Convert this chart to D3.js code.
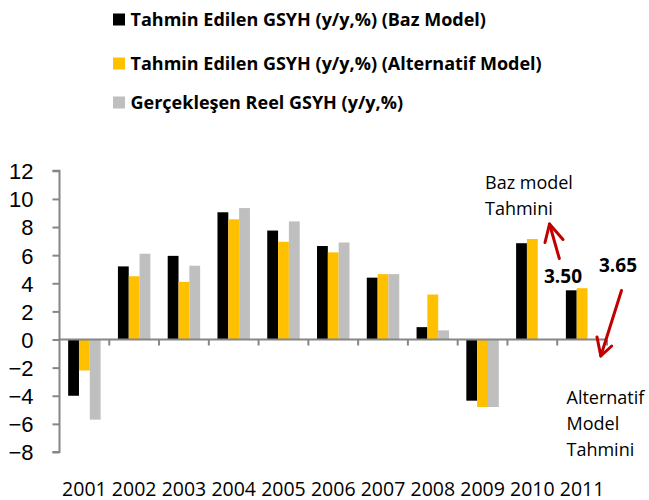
<!DOCTYPE html>
<html lang="tr">
    <head>
        <meta charset="utf-8">
        <title>GSYH Tahminleri</title>
        <script type="text/javascript" src="https://d3js.org/d3.v7.min.js"></script>
        <style>
            body { margin: 0; background: #fff; }
            svg { display: block; font-family: "Open Sans", sans-serif; }
            .axis path, .axis line { stroke: #868686; stroke-width: 2; }
            .y.axis text { font-size: 22px; fill: #000; }
            .x.axis text { font-size: 19.5px; fill: #000; }
            .legend text { font-size: 18px; font-weight: bold; }
            .note { font-size: 18px; }
            .val { font-size: 19px; font-weight: bold; }
        </style>
    </head>
    <body>
        <script>
            // data
            const years = ["2001","2002","2003","2004","2005","2006","2007","2008","2009","2010","2011"];
            const bazModel = [-4.0, 5.2, 5.95, 9.05, 7.75, 6.65, 4.4, 0.88, -4.35, 6.85, 3.50];
            const altModel = [-2.2, 4.5, 4.1, 8.55, 6.95, 6.2, 4.65, 3.2, -4.8, 7.15, 3.65];
            const gercek   = [-5.7, 6.1, 5.25, 9.35, 8.4, 6.9, 4.65, 0.65, -4.8, null, null];
            const seriesNames = ["Tahmin Edilen GSYH (y/y,%) (Baz Model)",
                                 "Tahmin Edilen GSYH (y/y,%) (Alternatif Model)",
                                 "Gerçekleşen Reel GSYH (y/y,%)"];
            const seriesColors = ["#000000", "#FFC000", "#BFBFBF"];
            const yTicks = [-8, -6, -4, -2, 0, 2, 4, 6, 8, 10, 12];

            const w = 649, h = 500;
            const svg = d3.select("body").append("svg")
                .attr("width", w).attr("height", h);

            // scales
            const xScale = d3.scaleBand()
                .domain(years)
                .range([59.5, 607]);
            const yScale = d3.scaleLinear()
                .domain([-8, 12])
                .range([452, 170.8]);
            const inner = d3.scaleBand()
                .domain([0, 1, 2])
                .range([0, xScale.bandwidth()])
                .paddingInner(0)
                .paddingOuter(0.8);

            const all = [bazModel, altModel, gercek];

            // bars
            all.forEach(function(vals, si) {
                svg.append("g")
                    .selectAll("rect")
                    .data(years.map(function(y, i) { return {year: y, v: vals[i]}; })
                               .filter(function(d) { return d.v !== null; }))
                    .enter()
                    .append("rect")
                    .attr("fill", seriesColors[si])
                    .attr("x", function(d) { return xScale(d.year) + inner(si); })
                    .attr("width", inner.bandwidth())
                    .attr("y", function(d) { return yScale(Math.max(0, d.v)); })
                    .attr("height", function(d) { return Math.abs(yScale(d.v) - yScale(0)); });
            });

            // y axis
            const yAxis = d3.axisLeft(yScale)
                .tickValues(yTicks)
                .tickSize(7)
                .tickPadding(19)
                .tickFormat(d3.format("d"));
            svg.append("g")
                .attr("class", "y axis")
                .attr("transform", "translate(59.5,0)")
                .call(yAxis)
                .call(function(g) { g.select(".domain").attr("d", "M-7,170.8H0V452H-7"); })
                .selectAll("text").attr("dy", "0.36em");

            // x axis at zero, ticks between categories
            const zeroAxis = svg.append("g")
                .attr("class", "x axis");
            zeroAxis.append("line")
                .attr("x1", 59.5).attr("x2", 607)
                .attr("y1", yScale(0)).attr("y2", yScale(0));
            zeroAxis.selectAll("line.tk")
                .data(years.slice(1).concat(["end"]))
                .enter()
                .append("line")
                .attr("class", "tk")
                .attr("x1", function(d, i) { return xScale(years[0]) + xScale.step() * (i + 1); })
                .attr("x2", function(d, i) { return xScale(years[0]) + xScale.step() * (i + 1); })
                .attr("y1", yScale(0)).attr("y2", yScale(0) + 6);

            // year labels at bottom
            svg.append("g")
                .attr("class", "x axis")
                .selectAll("text")
                .data(years)
                .enter()
                .append("text")
                .attr("x", function(d) { return xScale(d) + xScale.bandwidth() / 2; })
                .attr("y", 495.5)
                .attr("text-anchor", "middle")
                .text(function(d) { return d; });

            // legend
            const legend = svg.append("g").attr("class", "legend");
            const legendY = [26, 70, 109];
            seriesNames.forEach(function(name, i) {
                legend.append("rect")
                    .attr("x", 113).attr("y", legendY[i] - 12.5)
                    .attr("width", 12).attr("height", 12)
                    .attr("fill", seriesColors[i]);
                legend.append("text")
                    .attr("x", 130.5).attr("y", legendY[i])
                    .text(name);
            });

            // annotations
            const notes = svg.append("g").attr("class", "note");
            notes.append("text").attr("x", 485).attr("y", 188.5).text("Baz model");
            notes.append("text").attr("x", 485).attr("y", 214.5).text("Tahmini");
            notes.append("text").attr("x", 566.5).attr("y", 404).text("Alternatif");
            notes.append("text").attr("x", 566.5).attr("y", 430).text("Model");
            notes.append("text").attr("x", 566.5).attr("y", 456).text("Tahmini");

            svg.append("text").attr("class", "val")
                .attr("x", 544).attr("y", 282.5).text(d3.format(".2f")(bazModel[10]));
            svg.append("text").attr("class", "val")
                .attr("x", 599).attr("y", 271.5).text(d3.format(".2f")(altModel[10]));

            // red arrows
            const arrows = svg.append("g")
                .attr("stroke", "#C00000")
                .attr("stroke-width", 3)
                .attr("fill", "none")
                .attr("stroke-linecap", "round")
                .attr("stroke-linejoin", "round");
            arrows.append("path").attr("d", "M559.3,258.5L549.5,224");
            arrows.append("path").attr("d", "M545,242.5L549.5,224L563,239.5");
            arrows.append("path").attr("d", "M621.5,290.5L600.8,356");
            arrows.append("path").attr("d", "M597,337L600.8,356L611.7,346");
        </script>
    </body>
</html>
